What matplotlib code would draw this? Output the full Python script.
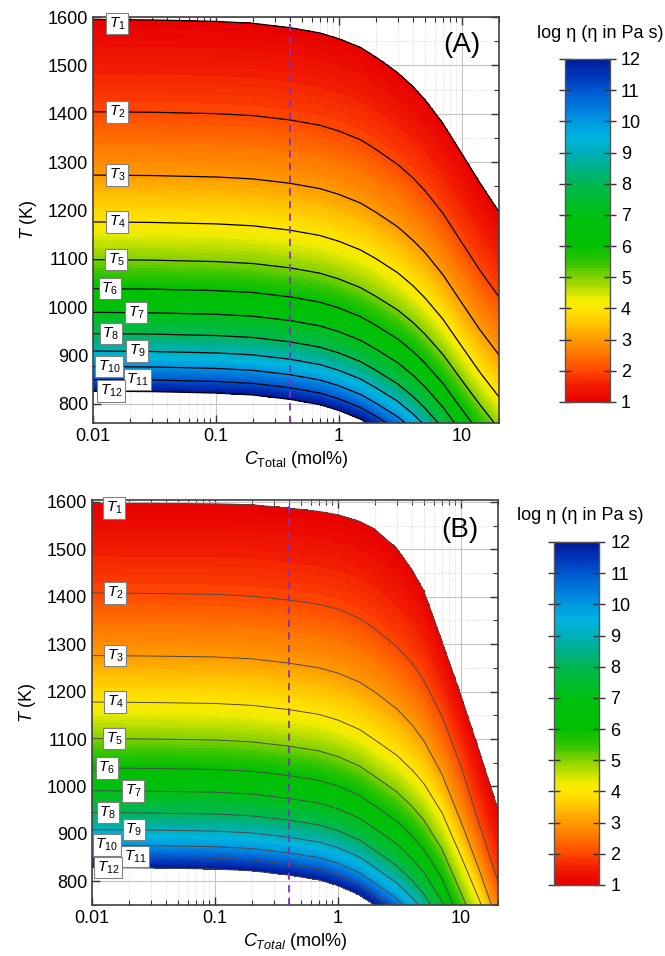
import numpy as np
import matplotlib
matplotlib.use('Agg')
import matplotlib.pyplot as plt
from matplotlib.colors import LinearSegmentedColormap
from matplotlib.ticker import MultipleLocator, FuncFormatter, LogLocator

plt.rcParams['font.family'] = ['Liberation Sans', 'DejaVu Sans']
plt.rcParams['mathtext.fontset'] = 'custom'
plt.rcParams['mathtext.rm'] = 'Liberation Sans'
plt.rcParams['mathtext.it'] = 'Liberation Sans:italic'

# concentration points (mol%) where the iso-viscosity lines were read
C_pts = [0.01, 0.03, 0.1, 0.2, 0.4, 0.7, 1, 1.5, 2, 3, 4, 5, 7, 10, 14, 20]
log_eta = [1, 2, 3, 4, 5, 6, 7, 8, 9, 10, 11, 12]

# panel A: temperature (K) of the T1..T12 lines
T_A = [
    [1595, 1594, 1591, 1587, 1578, 1567, 1555, 1537, 1517, 1485, 1456, 1429, 1380, 1317, 1257, 1197],
    [1404, 1403, 1400, 1396, 1387, 1376, 1364, 1346, 1326, 1295, 1267, 1241, 1194, 1133, 1076, 1021],
    [1273, 1272, 1269, 1265, 1256, 1245, 1233, 1215, 1196, 1166, 1138, 1113, 1067, 1008, 953, 901],
    [1176, 1175, 1172, 1168, 1159, 1148, 1136, 1118, 1100, 1071, 1044, 1019, 975, 918, 865, 814],
    [1098, 1097, 1094, 1090, 1081, 1070, 1058, 1040, 1022, 994, 968, 944, 902, 848, 798, 748],
    [1038, 1037, 1034, 1030, 1021, 1010, 998, 980, 962, 934, 908, 884, 842, 788, 738, 688],
    [989, 988, 985, 981, 972, 961, 949, 931, 913, 885, 859, 835, 793, 739, 689, 639],
    [945, 944, 941, 937, 928, 917, 905, 887, 869, 841, 815, 791, 749, 695, 645, 595],
    [909, 908, 905, 901, 892, 881, 869, 851, 833, 805, 779, 755, 713, 659, 609, 559],
    [877, 876, 873, 869, 860, 849, 837, 819, 801, 773, 747, 723, 681, 627, 577, 527],
    [850, 849, 846, 842, 833, 822, 810, 792, 774, 746, 720, 696, 654, 600, 550, 500],
    [826, 825, 822, 818, 809, 798, 786, 768, 750, 722, 696, 672, 630, 576, 526, 476],
]

# panel B
T_B = [
    [1597, 1597, 1596, 1594, 1587, 1580, 1573, 1559, 1542, 1502, 1457, 1412, 1307, 1192, 1077, 952],
    [1408, 1407, 1405, 1401, 1393, 1384, 1374, 1354, 1332, 1295, 1260, 1223, 1148, 1043, 923, 800],
    [1276, 1275, 1273, 1269, 1260, 1250, 1239, 1220, 1199, 1164, 1130, 1096, 1026, 926, 826, 711],
    [1178, 1177, 1175, 1171, 1162, 1152, 1140, 1120, 1098, 1066, 1035, 1006, 945, 853, 763, 663],
    [1101, 1100, 1098, 1094, 1085, 1075, 1063, 1043, 1021, 989, 958, 929, 868, 776, 686, 586],
    [1039, 1038, 1036, 1032, 1023, 1013, 1001, 981, 959, 927, 896, 867, 806, 714, 624, 524],
    [991, 990, 988, 984, 975, 965, 953, 933, 911, 879, 848, 819, 758, 666, 576, 476],
    [945, 944, 942, 938, 929, 919, 907, 887, 865, 833, 802, 773, 712, 620, 530, 430],
    [909, 908, 906, 902, 893, 883, 871, 851, 829, 797, 766, 737, 676, 584, 494, 394],
    [876, 875, 873, 869, 860, 850, 838, 818, 796, 764, 733, 704, 643, 551, 461, 361],
    [852, 851, 849, 845, 836, 826, 814, 794, 772, 740, 709, 680, 619, 527, 437, 337],
    [829, 828, 826, 822, 813, 803, 791, 771, 749, 717, 686, 657, 596, 504, 414, 314],
]

# x position of the T_i label boxes
lab_x_A = [0.0157, 0.0157, 0.0157, 0.0157, 0.0155, 0.0137, 0.0224, 0.0139, 0.0228, 0.0136, 0.0230, 0.0141]
lab_x_B = [0.0151, 0.0154, 0.0154, 0.0154, 0.0151, 0.0132, 0.0215, 0.0134, 0.0219, 0.0132, 0.0225, 0.0136]

cnodes = [(1.0, '#e60000'), (1.5, '#f21a00'), (2.0, '#ff4800'), (2.5, '#ff7400'),
          (3.0, '#ff9a00'), (3.5, '#ffc400'), (4.0, '#ffe800'), (4.3, '#eeec00'),
          (4.7, '#b0dc00'), (5.0, '#80d000'), (5.5, '#30c400'), (6.0, '#00c000'),
          (7.0, '#00c010'), (8.0, '#00b850'), (8.5, '#00b088'), (9.0, '#00b0b8'),
          (9.5, '#00b4e0'), (10.0, '#0098e0'), (10.5, '#0078dc'), (11.0, '#0058d0'),
          (11.5, '#0034b8'), (12.0, '#001a98')]
cmap = LinearSegmentedColormap.from_list(
    'visc', [((v - 1) / 11, c) for v, c in cnodes])


def make_field(curves):
    lc = np.linspace(-2, np.log10(20), 500)
    Tg = np.linspace(250, 1610, 900)
    cur = np.array([np.interp(lc, np.log10(C_pts), t) for t in curves])
    lev = np.array(log_eta[::-1], float)
    Z = np.full((len(Tg), len(lc)), np.nan)
    for j in range(len(lc)):
        Z[:, j] = np.interp(Tg, cur[::-1, j], lev, left=np.nan, right=np.nan)
    return 10 ** lc, Tg, Z


fig = plt.figure(figsize=(6.65, 9.56), dpi=100)

panels = [
    dict(curves=T_A, labx=lab_x_A, rect=[0.1398, 0.5575, 0.6105, 0.4247], ylim=(760, 1600),
         crect=[0.8496, 0.5795, 0.0677, 0.3588], title_xy=(600, 33), tag='(A)',
         tag_xy=(0.909, 0.931), lc='black', lw=0.9, xl=r'$C_{\mathrm{Total}}$ (mol%)'),
    dict(curves=T_B, labx=lab_x_B, rect=[0.1383, 0.0533, 0.6105, 0.4237], ylim=(750, 1604),
         crect=[0.8331, 0.0743, 0.0677, 0.3588], title_xy=(580, 516), tag='(B)',
         tag_xy=(0.906, 0.926), lc='#4a4a4a', lw=0.7, xl=r'$C_{Total}$ (mol%)'),
]

for p in panels:
    ax = fig.add_axes(p['rect'])
    X, Y, Z = make_field(p['curves'])
    cf = ax.contourf(X, Y, Z, levels=np.linspace(1, 12, 111), cmap=cmap, zorder=1)
    cf.set_edgecolor('face')
    cf.set_linewidth(0.3)
    for t in p['curves']:
        ax.plot(C_pts, t, color=p['lc'], lw=p['lw'], zorder=2)
    ax.axvline(0.4, color='#8030c8', ls=(0, (4, 3)), lw=1.3, zorder=3)

    for i, t in enumerate(p['curves']):
        y = min(t[0], 1587)
        ax.text(p['labx'][i], y, r'$T_{%d}$' % (i + 1), fontsize=11, ha='center', va='center',
                zorder=5, bbox=dict(boxstyle='square,pad=0.17', fc='white', ec='#808080', lw=0.8))

    ax.set_xscale('log')
    ax.set_xlim(0.01, 20)
    ax.set_ylim(*p['ylim'])
    ax.xaxis.set_major_locator(LogLocator(base=10))
    ax.xaxis.set_minor_locator(LogLocator(base=10, subs=np.arange(2, 10)))
    ax.xaxis.set_major_formatter(FuncFormatter(lambda v, pos: '%g' % v))
    ax.yaxis.set_major_locator(MultipleLocator(100))
    ax.yaxis.set_minor_locator(MultipleLocator(50))
    ax.set_axisbelow(True)
    ax.grid(True, which='major', color='#c4c4c4', lw=0.8)
    ax.grid(True, which='minor', color='#cfcfcf', lw=0.6, ls=':')
    ax.tick_params(which='both', direction='in', top=True, right=True, labelsize=13, color='#333333')
    ax.tick_params(which='major', length=6, width=1)
    ax.tick_params(which='minor', length=3.5, width=0.8)
    for s in ax.spines.values():
        s.set_color('#404040')
        s.set_linewidth(1.2)
    ax.set_xlabel(p['xl'], fontsize=13, labelpad=3)
    ax.set_ylabel(r'$T$ (K)', fontsize=13, labelpad=6)
    ax.text(p['tag_xy'][0], p['tag_xy'][1], p['tag'], transform=ax.transAxes,
            fontsize=20, ha='center', va='center', zorder=6)

    cax = fig.add_axes(p['crect'])
    cb = fig.colorbar(cf, cax=cax, ticks=log_eta)
    cb.ax.tick_params(direction='inout', length=9, width=1, left=True, right=True,
                      labelsize=13, color='#333333')
    cb.outline.set_edgecolor('#555555')
    cb.outline.set_linewidth(1)
    tx, ty = p['title_xy']
    fig.text(tx / 665, 1 - ty / 956, 'log η (η in Pa s)', ha='center', va='center', fontsize=13)

fig.savefig('out.png', dpi=100)
